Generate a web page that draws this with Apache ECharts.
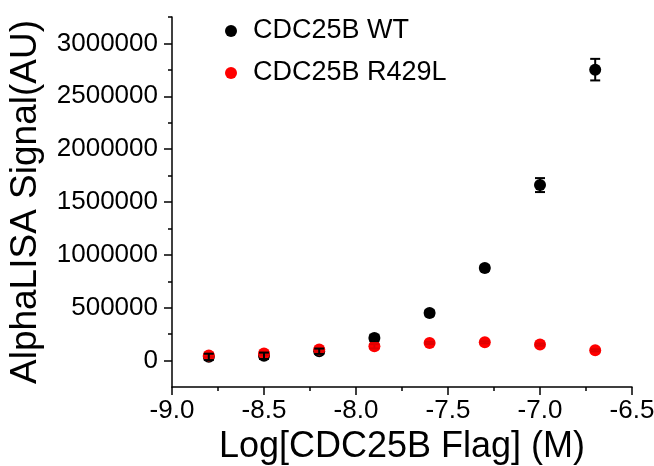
<!DOCTYPE html>
<html>
<head>
<meta charset="utf-8">
<script src="https://cdn.jsdelivr.net/npm/echarts@6/dist/echarts.min.js"></script>
<style>html,body{margin:0;padding:0;background:#fff}#c{width:654px;height:466px}</style>
</head>
<body>
<div id="c"></div>
<script>
const xValues = [-8.8, -8.5, -8.2, -7.9, -7.6, -7.3, -7.0, -6.7];
const wtMean = [35000, 45000, 88000, 214000, 450000, 875000, 1660000, 2752000];
const wtErr = [30000, 30000, 25000, 30000, 25000, 25000, 66000, 102000];
const mutMean = [47000, 66000, 104000, 135000, 167000, 173000, 151000, 97000];
const mutErr = [15000, 15000, 15000, 20000, 10000, 10000, 10000, 10000];
const yMajorTicks = [0, 500000, 1000000, 1500000, 2000000, 2500000, 3000000];
const yMinorTicks = [250000, 750000, 1250000, 1750000, 2250000, 2750000, 3250000];
const seriesNames = ['CDC25B WT', 'CDC25B R429L'];

const FONT = 'Liberation Sans, Arial, sans-serif';
const chart = echarts.init(document.getElementById('c'));

function errItem(color) {
  return function (params, api) {
    const x = api.value(0), lo = api.value(1), hi = api.value(2);
    const p1 = api.coord([x, hi]);
    const p2 = api.coord([x, lo]);
    const cap = 5;
    const st = { stroke: color, lineWidth: 2 };
    return {
      type: 'group',
      children: [
        { type: 'line', shape: { x1: p1[0], y1: p1[1], x2: p2[0], y2: p2[1] }, style: st },
        { type: 'line', shape: { x1: p1[0] - cap, y1: p1[1], x2: p1[0] + cap, y2: p1[1] }, style: st },
        { type: 'line', shape: { x1: p2[0] - cap, y1: p2[1], x2: p2[0] + cap, y2: p2[1] }, style: st }
      ]
    };
  };
}

const wtPts = xValues.map((x, i) => [x, wtMean[i]]);
const mutPts = xValues.map((x, i) => [x, mutMean[i]]);
const wtBars = xValues.map((x, i) => [x, wtMean[i] - wtErr[i], wtMean[i] + wtErr[i]]);
const mutBars = xValues.map((x, i) => [x, mutMean[i] - mutErr[i], mutMean[i] + mutErr[i]]);

chart.setOption({
  animation: false,
  backgroundColor: '#fff',
  grid: { left: 172, right: 22, top: 17, bottom: 79, containLabel: false, outerBoundsMode: 'none' },
  legend: {
    orient: 'vertical',
    left: 225, top: 16,
    padding: 0,
    itemWidth: 34, itemHeight: 12, itemGap: 12,
    icon: 'circle',
    data: seriesNames,
    textStyle: { fontFamily: FONT, fontSize: 27, color: '#000', lineHeight: 30 }
  },
  xAxis: {
    type: 'value',
    min: -9, max: -6.5, interval: 0.5,
    name: 'Log[CDC25B Flag] (M)',
    nameLocation: 'middle',
    nameGap: 42,
    nameTextStyle: { fontFamily: FONT, fontSize: 36, color: '#000' },
    axisLine: { show: true, onZero: false, lineStyle: { color: '#000', width: 1.5 } },
    axisTick: { show: true, inside: false, length: 8, lineStyle: { color: '#000', width: 1.5 } },
    minorTick: { show: true, splitNumber: 2, length: 4, lineStyle: { color: '#000', width: 1.5 } },
    axisLabel: { fontFamily: FONT, fontSize: 26, color: '#000', margin: 11, formatter: v => v.toFixed(1) },
    splitLine: { show: false }
  },
  yAxis: [{
    type: 'value',
    min: -250000, max: 3250000, interval: 250000,
    name: 'AlphaLISA Signal(AU)',
    nameLocation: 'middle',
    nameGap: 128,
    nameTextStyle: { fontFamily: FONT, fontSize: 37, color: '#000' },
    axisLine: { show: true, onZero: false, lineStyle: { color: '#000', width: 1.5 } },
    axisTick: { show: true, inside: false, length: 8, customValues: yMajorTicks, lineStyle: { color: '#000', width: 1.5 } },
    axisLabel: { fontFamily: FONT, fontSize: 26, color: '#000', margin: 14, customValues: yMajorTicks, formatter: v => String(v) },
    splitLine: { show: false }
  }, {
    type: 'value',
    position: 'left',
    min: -250000, max: 3250000, interval: 250000,
    axisLine: { show: false },
    axisTick: { show: true, inside: false, length: 4, customValues: yMinorTicks, lineStyle: { color: '#000', width: 1.5 } },
    axisLabel: { show: false },
    splitLine: { show: false }
  }],
  series: [
    {
      name: seriesNames[0], type: 'scatter', data: wtPts, symbol: 'circle', symbolSize: 12,
      itemStyle: { color: '#000', opacity: 1 }, z: 2
    },
    {
      name: seriesNames[1], type: 'scatter', data: mutPts, symbol: 'circle', symbolSize: 12,
      itemStyle: { color: '#ff0000', opacity: 1 }, z: 3
    },
    {
      type: 'custom', data: mutBars, renderItem: errItem('#e00000'), z: 4,
      encode: { x: 0, y: [1, 2] }, silent: true
    },
    {
      type: 'custom', data: wtBars, renderItem: errItem('#000'), z: 5,
      encode: { x: 0, y: [1, 2] }, silent: true
    }
  ]
});
</script>
</body>
</html>
